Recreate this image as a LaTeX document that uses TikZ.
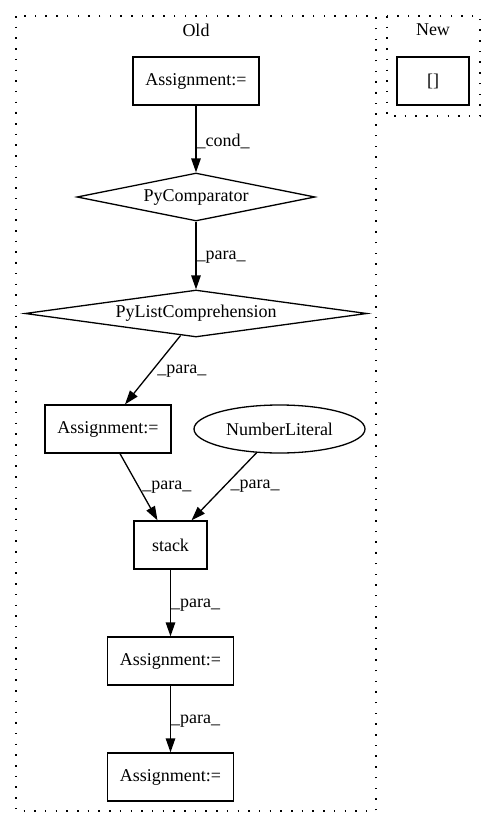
\documentclass[tikz,border=0pt]{standalone}
\usepackage{fontspec}
\setmainfont{Liberation Serif}
\usetikzlibrary{shapes.geometric,arrows.meta}
\begin{document}
\begin{tikzpicture}[x=1pt,y=-1pt,
  every node/.style={font=\fontsize{18}{21}\selectfont},
  box/.style={draw,line width=1.3pt,rectangle,minimum width=126pt,minimum height=48pt,inner sep=0pt},
  dia/.style={draw,line width=1.3pt,diamond,aspect=7,inner sep=0pt},
  ell/.style={draw,line width=1.3pt,ellipse,minimum width=171pt,minimum height=48pt,inner sep=0pt},
  cluster/.style={draw,line width=1.5pt,dash pattern=on 1.5pt off 9.2pt},
  edge/.style={draw,line width=1.3pt,-{Triangle[length=14pt,width=9.5pt]}},
  lbl/.style={anchor=west,inner sep=0pt}]
\useasboundingbox (0,0) rectangle (496,828);
\fill[white] (0,0) rectangle (496,828);
% clusters
\draw[cluster] (16,16) rectangle (376,811);
\draw[cluster] (387,16) rectangle (480,116);
\node (oldlbl) at (196,30) {Old};
\node (newlbl) at (433,30) {New};
% nodes
\node[box] (a1) at (196,81) {Assignment:=};
\node[box,minimum width=72pt] (br) at (433,81) {[]};
\node[dia,minimum width=238pt,minimum height=48pt] (pc) at (196,197) {PyComparator};
\node[dia,minimum width=342pt,minimum height=47pt] (plc) at (196,313.5) {PyListComprehension};
\node[box] (a2) at (108,429) {Assignment:=};
\node[ell] (nl) at (279.5,429) {NumberLiteral};
\node[box,minimum width=73pt] (st) at (170.5,545) {stack};
\node[box] (a3) at (170.5,661) {Assignment:=};
\node[box] (a4) at (170.5,777) {Assignment:=};
% edges
\draw[edge] (a1) -- node[lbl,xshift=0pt,yshift=-2pt]{\_cond\_} (pc);
\draw[edge] (pc) -- node[lbl,yshift=-2pt]{\_para\_} (plc);
\draw[edge] (plc.235) -- node[lbl,xshift=4pt,yshift=-1pt]{\_para\_} ([xshift=17pt]a2.north);
\draw[edge] ([xshift=12pt]a2.south) -- node[lbl,xshift=3pt]{\_para\_} ([xshift=-13pt]st.north);
\draw[edge] (nl.226.5) -- node[lbl,xshift=6pt]{\_para\_} ([xshift=21pt]st.north);
\draw[edge] (st) -- node[lbl,yshift=-2pt]{\_para\_} (a3);
\draw[edge] (a3) -- node[lbl,yshift=-2pt]{\_para\_} (a4);
\end{tikzpicture}
\end{document}
